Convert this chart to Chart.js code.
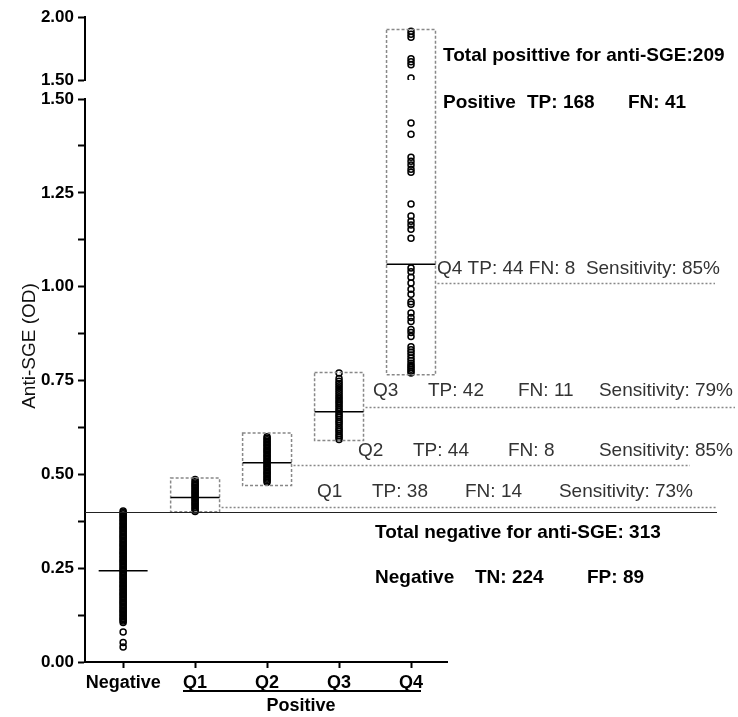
<!DOCTYPE html>
<html>
<head>
<meta charset="utf-8">
<script src="https://cdn.jsdelivr.net/npm/chart.js@4.4.1/dist/chart.umd.min.js"></script>
<style>
  body { margin: 0; background: #fff; }
  #wrap { width: 738px; height: 717px; }
</style>
</head>
<body>
<div id="wrap"><canvas id="odChart" width="738" height="717"></canvas></div>
<script>
// categories on the x axis
const categories = ['Negative', 'Q1', 'Q2', 'Q3', 'Q4'];

// OD values
const negValues = [0.402, 0.398, 0.395, 0.391, 0.388, 0.384, 0.380, 0.377, 0.373, 0.369, 0.366, 0.362,
  0.358, 0.355, 0.351, 0.347, 0.344, 0.340, 0.336, 0.333, 0.329, 0.325, 0.322, 0.318, 0.314, 0.311,
  0.307, 0.303, 0.300, 0.296, 0.292, 0.289, 0.285, 0.281, 0.278, 0.274, 0.270, 0.267, 0.263, 0.259,
  0.256, 0.252, 0.248, 0.245, 0.241, 0.237, 0.234, 0.230, 0.226, 0.223, 0.219, 0.215, 0.212, 0.208,
  0.204, 0.201, 0.197, 0.193, 0.190, 0.186, 0.182, 0.179, 0.175, 0.171, 0.168, 0.164, 0.160, 0.157,
  0.153, 0.149, 0.146, 0.142, 0.138, 0.135, 0.131, 0.127, 0.124, 0.120, 0.116, 0.113, 0.109, 0.105,
  0.080, 0.052, 0.040];
const q1Values = [0.401, 0.405, 0.409, 0.412, 0.416, 0.420, 0.423, 0.427, 0.430, 0.434, 0.437, 0.441,
  0.445, 0.448, 0.452, 0.455, 0.459, 0.463, 0.466, 0.470, 0.473, 0.477, 0.481, 0.486];
const q2Values = [0.479, 0.483, 0.487, 0.490, 0.494, 0.498, 0.502, 0.505, 0.509, 0.513, 0.517, 0.520,
  0.524, 0.528, 0.532, 0.535, 0.539, 0.543, 0.547, 0.550, 0.554, 0.558, 0.562, 0.565, 0.569, 0.573,
  0.577, 0.580, 0.584, 0.588, 0.592, 0.596, 0.600];
const q3Values = [0.593, 0.598, 0.603, 0.608, 0.614, 0.619, 0.624, 0.630, 0.636, 0.641, 0.646, 0.652,
  0.657, 0.662, 0.668, 0.673, 0.679, 0.684, 0.690, 0.695, 0.701, 0.706, 0.712, 0.718, 0.724, 0.730,
  0.736, 0.742, 0.748, 0.755, 0.770];
const q4Values = [1.887, 1.863, 1.839, 1.669, 1.645, 1.621, 1.516,
  1.436, 1.406, 1.345, 1.334, 1.324, 1.313, 1.305, 1.220, 1.188, 1.174, 1.164, 1.153, 1.129,
  1.050, 1.040, 1.025, 1.010, 0.993, 0.980, 0.960, 0.953, 0.930, 0.918, 0.907, 0.886, 0.878, 0.867,
  0.840, 0.832, 0.825, 0.818, 0.810, 0.803, 0.796, 0.790, 0.785, 0.780, 0.775, 0.770];

// medians, dashed range boxes, cut-off and dotted guide levels
const medians = [0.243, 0.438, 0.531, 0.667, 1.06];
const boxLow = [null, 0.40, 0.47, 0.59, 0.765];
const boxHigh = [null, 0.49, 0.61, 0.771, 1.90];
const cutoff = 0.40;
const guideLevels = [0.414, 0.526, 0.68, 1.01];

// axis break and tick labels
const axisBreak = 1.5;
const lowTickLabels = [0, 0.25, 0.5, 0.75, 1.0, 1.25, 1.5];
const topTickLabels = [1.5, 1.75, 2.0];

const series = [negValues, q1Values, q2Values, q3Values, q4Values];
const dotStyle = {
  showLine: false,
  pointRadius: 3,
  pointBorderWidth: 1.5,
  pointBorderColor: '#000',
  pointBackgroundColor: 'rgba(0,0,0,0)'
};
const datasets = [];
series.forEach((vals, i) => {
  const low = vals.filter(v => v <= axisBreak).map(v => ({ x: i, y: v }));
  const high = vals.filter(v => v > axisBreak).map(v => ({ x: i, y: v }));
  datasets.push({ label: categories[i], data: low, yAxisID: 'y', ...dotStyle });
  if (high.length) {
    datasets.push({ label: categories[i] + ' (upper)', data: high, yAxisID: 'yTop', ...dotStyle });
  }
});

const FONT = '"Liberation Sans", Arial, sans-serif';
const halfWidth = 0.34;

function isLabelled(v, list) {
  return list.some(t => Math.abs(t - v) < 1e-6);
}

// boxes, medians, guide lines and all the text around the plot
const annotate = {
  id: 'annotate',
  afterDatasetsDraw(chart) {
    const { ctx, chartArea } = chart;
    const { x, y, yTop } = chart.scales;
    const py = v => (v > axisBreak ? yTop.getPixelForValue(v) : y.getPixelForValue(v));
    ctx.save();

    // dashed range boxes
    ctx.strokeStyle = '#888';
    ctx.lineWidth = 1.5;
    ctx.setLineDash([3, 2]);
    boxLow.forEach((lo, i) => {
      if (lo === null) return;
      const left = x.getPixelForValue(i - halfWidth);
      const right = x.getPixelForValue(i + halfWidth);
      const top = py(boxHigh[i]);
      const bottom = py(lo);
      ctx.strokeRect(left, top, right - left, bottom - top);
    });

    // dotted guides to the labels
    const guideEnds = [717, 690, 735, 715];
    ctx.strokeStyle = '#888';
    ctx.lineWidth = 1.5;
    ctx.setLineDash([2, 2]);
    guideLevels.forEach((lv, k) => {
      const i = k + 1;
      const yy = Math.round(py(lv)) + 0.5;
      ctx.beginPath();
      ctx.moveTo(x.getPixelForValue(i + halfWidth) + 2, yy);
      ctx.lineTo(guideEnds[k], yy);
      ctx.stroke();
    });

    // cut-off line
    ctx.setLineDash([]);
    ctx.strokeStyle = '#222';
    ctx.lineWidth = 1.2;
    const cy = Math.round(py(cutoff)) + 0.5;
    ctx.beginPath();
    ctx.moveTo(chartArea.left, cy);
    ctx.lineTo(717, cy);
    ctx.stroke();

    // medians
    ctx.strokeStyle = '#000';
    ctx.lineWidth = 1.5;
    medians.forEach((m, i) => {
      const yy = py(m);
      ctx.beginPath();
      ctx.moveTo(x.getPixelForValue(i - halfWidth), yy);
      ctx.lineTo(x.getPixelForValue(i + halfWidth), yy);
      ctx.stroke();
    });

    // text
    ctx.textBaseline = 'middle';
    ctx.textAlign = 'left';
    const bold = [
      ['Total posittive for anti-SGE:209', 443, 56],
      ['Positive', 443, 103], ['TP: 168', 527, 103], ['FN: 41', 628, 103],
      ['Total negative for anti-SGE: 313', 375, 533],
      ['Negative', 375, 578], ['TN: 224', 475, 578], ['FP: 89', 587, 578]
    ];
    ctx.fillStyle = '#000';
    ctx.font = 'bold 19px ' + FONT;
    bold.forEach(([t, tx, ty]) => ctx.fillText(t, tx, ty));

    const plain = [
      ['Q4 TP: 44 FN: 8  Sensitivity: 85%', 437, 269],
      ['Q3', 373, 391], ['TP: 42', 428, 391], ['FN: 11', 518, 391],
      ['Q2', 358, 451], ['TP: 44', 413, 451], ['FN: 8', 508, 451],
      ['Q1', 317, 492], ['TP: 38', 372, 492], ['FN: 14', 465, 492]
    ];
    ctx.fillStyle = '#333';
    ctx.font = '19px ' + FONT;
    plain.forEach(([t, tx, ty]) => ctx.fillText(t, tx, ty));
    ctx.textAlign = 'right';
    ctx.fillText('Sensitivity: 79%', 733, 391);
    ctx.fillText('Sensitivity: 85%', 733, 451);
    ctx.fillText('Sensitivity: 73%', 693, 492);

    // grouping bar under Q1..Q4
    ctx.strokeStyle = '#000';
    ctx.lineWidth = 2;
    ctx.beginPath();
    ctx.moveTo(183, 691);
    ctx.lineTo(421, 691);
    ctx.stroke();
    ctx.textAlign = 'center';
    ctx.fillStyle = '#000';
    ctx.font = 'bold 18px ' + FONT;
    ctx.fillText('Positive', 301, 706);

    // y axis title
    ctx.translate(30, 346);
    ctx.rotate(-Math.PI / 2);
    ctx.font = '19px ' + FONT;
    ctx.fillStyle = '#111';
    ctx.fillText('Anti-SGE (OD)', 0, 0);
    ctx.restore();
  }
};

const yTickFont = { family: FONT, size: 17, weight: 'bold' };
const axisGrid = { drawOnChartArea: false, tickLength: 7, tickColor: '#000', tickWidth: 2 };
const axisBorder = { color: '#000', width: 2 };

new Chart(document.getElementById('odChart'), {
  type: 'scatter',
  data: { datasets: datasets },
  options: {
    responsive: false,
    animation: false,
    layout: { padding: { left: 10, right: 291, top: 17, bottom: 0 } },
    plugins: { legend: { display: false }, tooltip: { enabled: false } },
    scales: {
      x: {
        type: 'linear',
        min: -0.53,
        max: 4.5,
        afterBuildTicks: s => { s.ticks = categories.map((c, i) => ({ value: i })); },
        afterFit: s => { s.height = 55; },
        ticks: {
          callback: v => categories[v],
          autoSkip: false,
          maxRotation: 0,
          padding: 4,
          color: '#000',
          font: { family: FONT, size: 18, weight: 'bold' }
        },
        grid: { drawOnChartArea: false, tickLength: 6, tickColor: '#000', tickWidth: 2 },
        border: axisBorder
      },
      y: {
        type: 'linear',
        position: 'left',
        stack: 'od',
        stackWeight: 563,
        min: 0,
        max: 1.5,
        afterFit: s => { s.width = 75; },
        ticks: {
          stepSize: 0.125,
          callback: v => (isLabelled(v, lowTickLabels) ? v.toFixed(2) : ''),
          padding: 4,
          color: '#000',
          font: yTickFont
        },
        grid: axisGrid,
        border: axisBorder
      },
      yGap: {
        type: 'linear',
        position: 'left',
        stack: 'od',
        stackWeight: 19,
        display: false,
        min: 0,
        max: 1
      },
      yTop: {
        type: 'linear',
        position: 'left',
        stack: 'od',
        stackWeight: 63,
        min: 1.5,
        max: 2.0,
        afterFit: s => { s.width = 75; },
        ticks: {
          stepSize: 0.25,
          callback: v => (isLabelled(v, topTickLabels) ? v.toFixed(2) : ''),
          padding: 4,
          color: '#000',
          font: yTickFont
        },
        grid: axisGrid,
        border: axisBorder
      }
    }
  },
  plugins: [annotate]
});
</script>
</body>
</html>
